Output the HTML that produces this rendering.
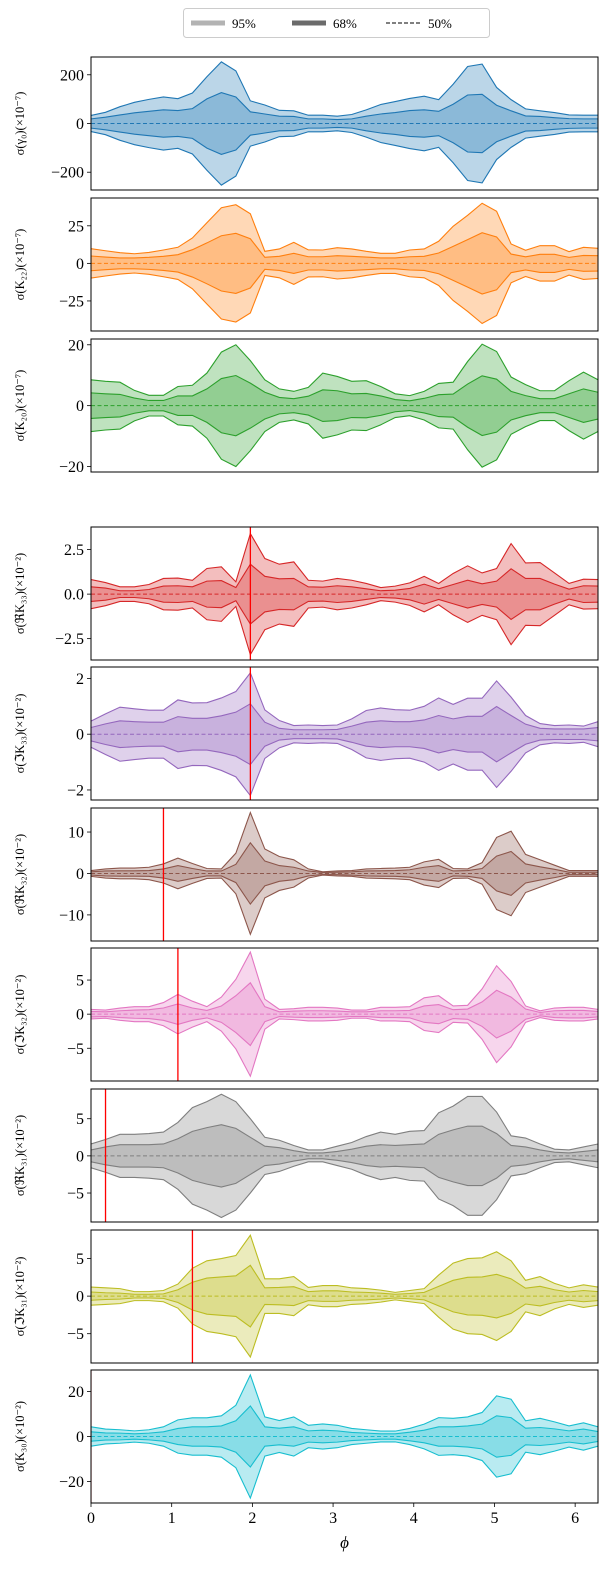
<!DOCTYPE html>
<html><head><meta charset="utf-8"><style>
body{margin:0;background:#fff;}
svg{display:block;font-family:"Liberation Serif",serif;}
</style></head><body>
<svg id="chart" width="613" height="1586" viewBox="0 0 613 1586" xmlns="http://www.w3.org/2000/svg">
<g>
<rect x="183.5" y="8.5" width="306" height="29" rx="3" fill="#fff" stroke="#cccccc"/>
<line x1="191" y1="23" x2="225" y2="23" stroke="#b3b3b3" stroke-width="5"/>
<text x="232" y="28" font-size="13">95%</text>
<line x1="292" y1="23" x2="326" y2="23" stroke="#6b6b6b" stroke-width="5"/>
<text x="333" y="28" font-size="13">68%</text>
<line x1="386" y1="23" x2="420" y2="23" stroke="#000" stroke-width="1" stroke-dasharray="4,2"/>
<text x="428" y="28" font-size="13">50%</text>
</g>
</svg>
<script>
const NS="http://www.w3.org/2000/svg";
const svg=document.getElementById('chart');
const xTicks=[0,1,2,3,4,5,6];
const p1_95=[33,46,69,87,99,109,102,125,192,253,216,93,76,54,52,34,34,30,37,56,78,90,103,112,98,161,234,244,148,98,60,52,45,35,34,34];
const p1_68=[19,26,35,44,50,56,53,61,101,127,109,48,39,30,29,19,19,16,19,30,39,45,53,56,50,79,117,120,75,52,31,29,24,20,19,19];
const p2_95=[9.8,8.4,7.1,6.4,7.3,8.9,10.7,16.9,27,37,39,33,8,9.6,14,9,8.9,10.4,9.6,8,6.7,6.7,8.9,9.6,14.7,24.7,32,40,34.7,12.9,8.7,11.8,11.8,7.8,10.7,10];
const p2_68=[4.9,4.2,3.6,3.6,4,4.7,5.8,9.1,13.6,18.4,20,16.4,4,4.7,6.7,4.4,4.4,5.1,4.7,4.2,3.6,3.6,4.4,4.7,6.9,11.3,15.8,20.4,17.6,6.2,4.4,6,6,4,5.3,5.1];
const p3_95=[8.5,8,7.7,5,3.4,3.4,6.3,6.7,10.7,17.6,20,14.8,8.5,5.5,4.7,6,10.7,9.6,8,8.2,6.3,3.9,3.3,4.7,7.3,7.7,14.5,20.2,17.8,9.4,6.9,4.9,4.9,8.2,11,8.5];
const p3_68=[4.2,3.9,3.7,2.5,1.7,1.7,3.2,3.2,5.5,8.9,9.9,7.4,4.4,2.7,2.3,3.1,5.2,4.9,3.9,4,3.2,2,1.6,2.4,3.6,3.8,7.1,9.8,8.7,4.7,3.3,2.3,2.3,3.9,5.5,4.4];
const p4_95=[0.82,0.65,0.41,0.41,0.54,0.88,0.9,0.78,1.44,1.53,0.69,3.4,2.0,1.68,1.81,0.78,0.73,0.88,0.78,0.6,0.37,0.45,0.63,1.0,0.6,1.16,1.59,1.19,1.44,2.84,1.75,1.77,1.19,0.6,0.84,0.82];
const p4_68=[0.41,0.34,0.19,0.19,0.26,0.45,0.47,0.41,0.73,0.76,0.37,1.68,1.0,0.86,0.88,0.41,0.39,0.47,0.41,0.3,0.19,0.22,0.32,0.56,0.3,0.54,0.78,0.58,0.73,1.42,0.88,0.88,0.56,0.28,0.47,0.45];
const p5_95=[0.47,0.73,0.97,0.91,0.86,0.86,1.23,1.12,1.13,1.3,1.53,2.2,0.87,0.49,0.31,0.33,0.31,0.33,0.55,0.85,0.94,0.88,0.86,1.0,1.3,1.07,1.29,1.29,1.91,1.33,0.67,0.38,0.31,0.33,0.29,0.45];
const p5_68=[0.24,0.37,0.48,0.45,0.43,0.43,0.63,0.57,0.57,0.66,0.79,1.09,0.43,0.21,0.16,0.16,0.16,0.17,0.29,0.43,0.48,0.45,0.45,0.51,0.67,0.55,0.64,0.64,0.99,0.67,0.36,0.21,0.19,0.19,0.19,0.24];
const p6_95=[0.7,1.1,1.3,1.3,1.5,2.3,3.7,2.4,1.2,1.1,4.9,14.7,5.9,4.1,3.3,1.1,0.4,0.6,0.7,1.1,1.2,1.3,1.5,2.8,3.4,1.2,1.1,2.6,8.7,10.2,4.6,3.3,2.0,0.7,0.7,0.7];
const p6_68=[0.4,0.6,0.65,0.65,0.7,1.1,1.9,1.2,0.6,0.6,2.2,7.4,3.0,1.9,1.5,0.6,0.25,0.3,0.4,0.6,0.65,0.7,0.9,1.5,1.9,0.6,0.7,1.2,4.2,5.3,2.3,1.6,1.0,0.3,0.3,0.3];
const p7_95=[0.7,0.6,0.9,1.1,1.1,1.7,2.9,1.9,1.1,2.5,5.1,9.1,2.2,0.7,0.8,1.0,1.0,0.9,0.6,0.6,1.0,1.0,1.1,2.4,2.7,1.2,1.3,3.7,7.1,4.8,1.2,0.5,0.9,1.0,1.0,0.7];
const p7_68=[0.4,0.35,0.5,0.6,0.65,0.9,1.5,0.9,0.55,1.2,2.7,4.6,1.1,0.35,0.45,0.5,0.5,0.45,0.35,0.35,0.5,0.5,0.55,1.2,1.4,0.65,0.75,1.8,3.5,2.5,0.75,0.25,0.5,0.55,0.55,0.4];
const p8_95=[1.6,2.2,2.9,2.9,3.0,3.2,4.5,6.5,7.3,8.3,7.3,5.0,2.5,2.1,1.4,0.8,0.8,1.3,1.8,2.6,3.2,2.9,3.3,3.4,5.8,6.7,8.0,8.0,5.9,2.7,2.4,1.6,0.9,0.8,1.2,1.6];
const p8_68=[0.8,1.2,1.5,1.5,1.5,1.6,2.3,3.3,3.8,4.2,3.7,2.5,1.3,1.1,0.7,0.4,0.4,0.6,0.9,1.3,1.5,1.4,1.5,1.6,2.9,3.5,4.0,4.0,3.0,1.4,1.2,0.8,0.5,0.4,0.6,0.8];
const p9_95=[1.2,1.1,1.0,0.6,0.6,0.75,1.6,3.7,4.7,5.0,5.4,8.1,2.3,2.3,2.6,1.15,1.4,1.4,1.1,1.0,0.8,0.5,0.75,1.0,2.8,4.4,5.0,5.1,5.9,4.7,2.1,2.6,1.7,1.1,1.5,1.2];
const p9_68=[0.55,0.45,0.4,0.25,0.25,0.3,0.85,1.85,2.4,2.55,2.7,4.1,1.1,1.15,1.25,0.6,0.7,0.7,0.55,0.5,0.4,0.25,0.35,0.5,1.3,2.1,2.5,2.55,2.9,2.3,1.05,1.3,0.85,0.55,0.75,0.6];
const p10_95=[4.3,3.3,3.0,2.5,3.0,4.3,7.4,8.3,8.3,9.2,13.9,27.4,8.7,7.1,8.7,5.0,5.6,5.0,3.6,3.0,2.4,2.4,3.6,5.5,8.4,8.1,8.7,10.7,18.1,16.6,7.0,8.1,6.5,4.7,6.1,4.3];
const p10_68=[2.1,1.6,1.5,1.2,1.5,2.1,3.6,4.3,4.3,4.7,7.0,13.6,4.3,3.7,4.3,2.5,2.8,2.5,1.8,1.5,1.2,1.2,1.9,2.8,4.3,4.3,4.7,5.5,9.2,8.4,3.7,4.0,3.4,2.5,3.3,2.2];
const bands95=[p1_95,p2_95,p3_95,p4_95,p5_95,p6_95,p7_95,p8_95,p9_95,p10_95];
const bands68=[p1_68,p2_68,p3_68,p4_68,p5_68,p6_68,p7_68,p8_68,p9_68,p10_68];
const yMax=[273,43.5,21.9,3.77,2.41,15.8,9.7,9.0,8.8,29.6];
const yMin=[-273,-45,-21.8,-3.7,-2.36,-16.3,-9.8,-8.9,-8.9,-29.6];
const yTicks=[[200,0,-200],[25,0,-25],[20,0,-20],[2.5,0,-2.5],[2,0,-2],[10,0,-10],[5,0,-5],[5,0,-5],[5,0,-5],[20,0,-20]];
const tickDec=[0,0,0,1,0,0,0,0,0,0];
const redLinePhi=[null,null,null,1.975,1.975,0.898,1.077,0.18,1.257,0.0];
const labels=["σ(γ₀)(×10⁻⁷)","σ(K₂₂)(×10⁻⁷)","σ(K₂₀)(×10⁻⁷)","σ(ℜK₃₃)(×10⁻²)","σ(ℑK₃₃)(×10⁻²)","σ(ℜK₃₂)(×10⁻²)","σ(ℑK₃₂)(×10⁻²)","σ(ℜK₃₁)(×10⁻²)","σ(ℑK₃₁)(×10⁻²)","σ(K₃₀)(×10⁻²)"];
const colors=["#1f77b4","#ff7f0e","#2ca02c","#d62728","#9467bd","#8c564b","#e377c2","#7f7f7f","#bcbd22","#17becf"];
const panelTop=[57,198,339,527,667,808,948,1089,1230,1370];
const panelH=133, L=91, R=598;
const TWO_PI=2*Math.PI;
function xs(phi){return L+phi/TWO_PI*(R-L);}
function mk(tag,attrs,parent){const e=document.createElementNS(NS,tag);for(const k in attrs)e.setAttribute(k,attrs[k]);(parent||svg).appendChild(e);return e;}
function fmt(v,d){const s=v.toFixed(d);return v<0?"−"+s.slice(1):s;}
for(let p=0;p<10;p++){
  const top=panelTop[p], bot=top+panelH;
  const ys=v=>top+(yMax[p]-v)/(yMax[p]-yMin[p])*panelH;
  const g=mk('g',{});
  
  
  const cid='clip'+p;
  const cp=mk('clipPath',{id:cid},g);mk('rect',{x:L,y:top,width:R-L,height:panelH},cp);
  const pg=mk('g',{'clip-path':'url(#'+cid+')'},g);
  const u95=bands95[p],u68=bands68[p],n=u95.length;
  const px=i=>xs(i*TWO_PI/(n-1));
  function band(arr,name){
    let d='';for(let i=0;i<n;i++)d+=(i?'L':'M')+px(i).toFixed(2)+','+ys(arr[i]).toFixed(2);
    for(let i=n-1;i>=0;i--)d+='L'+px(i).toFixed(2)+','+ys(-arr[i]).toFixed(2);
    const e=mk('path',{d:d+'Z',fill:colors[p],'fill-opacity':0.3,stroke:'none'},pg);
    
    
  }
  band(u95,'band-95');band(u68,'band-68');
  function line(arr,sgn,name){
    let d='';for(let i=0;i<n;i++)d+=(i?'L':'M')+px(i).toFixed(2)+','+ys(sgn*arr[i]).toFixed(2);
    const e=mk('path',{d:d,fill:'none',stroke:colors[p],'stroke-width':1.1},pg);
    
    
  }
  line(u95,1,'upper-95-line');line(u95,-1,'lower-95-line');line(u68,1,'upper-68-line');line(u68,-1,'lower-68-line');
  const med=mk('line',{x1:L,x2:R,y1:ys(0),y2:ys(0),stroke:colors[p],'stroke-width':1,'stroke-dasharray':'4,2.5'},pg);
  
  
  if(redLinePhi[p]!==null){
    const xr=xs(redLinePhi[p]);
    const rl=mk('line',{x1:xr,x2:xr,y1:top,y2:bot,stroke:'#ff0000','stroke-width':1.3,'stroke-opacity':p===9?0.4:1},pg);
    
    
  }
  mk('rect',{x:L,y:top,width:R-L,height:panelH,fill:'none',stroke:'#000','stroke-width':1},g);
  yTicks[p].forEach(t=>{
    const y=ys(t);
    mk('line',{x1:L-4,x2:L,y1:y,y2:y,stroke:'#000','stroke-width':0.8},g);
    const tx=mk('text',{x:L-7,y:y+5.5,'font-size':16,'text-anchor':'end'},g);
    tx.textContent=fmt(t,tickDec[p]);
    
    
  });
  const cy=top+panelH/2;
  const lab=mk('text',{x:0,y:0,'font-size':12.5,'text-anchor':'middle',transform:'translate(24,'+cy+') rotate(-90)'},g);
  lab.textContent=labels[p];
  
  
}
const lastBot=panelTop[9]+panelH;
xTicks.forEach(t=>{
  const x=xs(t);
  mk('line',{x1:x,x2:x,y1:lastBot,y2:lastBot+4,stroke:'#000','stroke-width':0.8});
  const tx=mk('text',{x:x,y:lastBot+20,'font-size':16,'text-anchor':'middle'});
  tx.textContent=String(t);
  
  
});
const xl=mk('text',{x:(L+R)/2,y:lastBot+45,'font-size':17,'font-style':'italic','text-anchor':'middle'});
xl.textContent='ϕ';


</script>
</body></html>
